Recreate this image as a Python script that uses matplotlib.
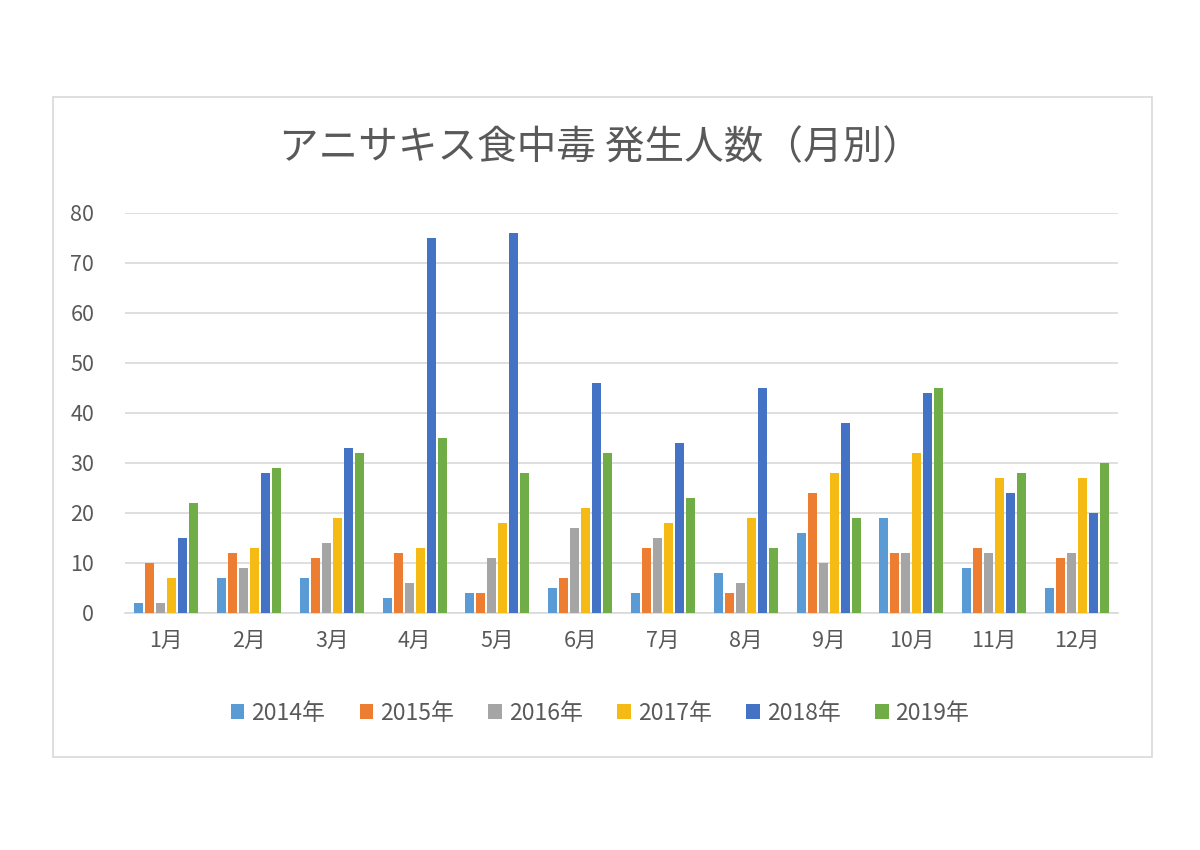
import matplotlib
matplotlib.use('Agg')
import matplotlib.pyplot as plt
import numpy as np
from matplotlib.patches import Rectangle

plt.rcParams['font.family'] = ['Noto Sans CJK JP', 'DejaVu Sans']

# Data
months = ['1月', '2月', '3月', '4月', '5月', '6月', '7月', '8月', '9月', '10月', '11月', '12月']
years = ['2014年', '2015年', '2016年', '2017年', '2018年', '2019年']
y2014 = [2, 7, 7, 3, 4, 5, 4, 8, 16, 19, 9, 5]
y2015 = [10, 12, 11, 12, 4, 7, 13, 4, 24, 12, 13, 11]
y2016 = [2, 9, 14, 6, 11, 17, 15, 6, 10, 12, 12, 12]
y2017 = [7, 13, 19, 13, 18, 21, 18, 19, 28, 32, 27, 27]
y2018 = [15, 28, 33, 75, 76, 46, 34, 45, 38, 44, 24, 20]
y2019 = [22, 29, 32, 35, 28, 32, 23, 13, 19, 45, 28, 30]
series = [y2014, y2015, y2016, y2017, y2018, y2019]
colors = ['#5B9BD5', '#ED7D31', '#A5A5A5', '#F5BA14', '#4472C4', '#70AD47']

text_color = '#595959'

fig = plt.figure(figsize=(12, 8.5), dpi=100)
fig.patch.set_facecolor('white')

# chart frame
fig.patches.append(Rectangle((0.0442, 0.1094), 0.916, 0.776, transform=fig.transFigure,
                             fill=False, edgecolor='#D9D9D9', linewidth=1.2))

ax = fig.add_axes([0.104, 0.279, 0.828, 0.4706])

x = np.arange(len(months))
step = 0.133
width = 0.108
for i, (vals, c, lab) in enumerate(zip(series, colors, years)):
    ax.bar(x + (i - 2.5) * step, vals, width=width, color=c, label=lab, zorder=3)

ax.set_xlim(-0.5, len(months) - 0.5)
ax.set_ylim(0, 80)
ax.set_yticks(range(0, 81, 10))
ax.grid(axis='y', color='#D9D9D9', linewidth=1.2, zorder=0)
for s in ['top', 'right', 'left']:
    ax.spines[s].set_visible(False)
ax.spines['bottom'].set_color('#D9D9D9')
ax.spines['bottom'].set_linewidth(1.2)
ax.tick_params(axis='both', length=0, labelsize=15.5, colors=text_color, labelcolor=text_color)
ax.tick_params(axis='y', pad=22)
ax.tick_params(axis='x', pad=12)
ax.set_xticks(x)
ax.set_xticklabels(months)

fig.text(0.5, 0.826, 'アニサキス食中毒 発生人数（月別）', ha='center', va='center',
         fontsize=28.5, color=text_color)

leg = fig.legend(loc='center', bbox_to_anchor=(0.5, 0.161), ncol=6, frameon=False,
                 fontsize=16.5, handlelength=0.6, handleheight=0.6, handletextpad=0.3,
                 columnspacing=1.5)
for t in leg.get_texts():
    t.set_color(text_color)

fig.savefig('out.png', dpi=100, facecolor='white')
